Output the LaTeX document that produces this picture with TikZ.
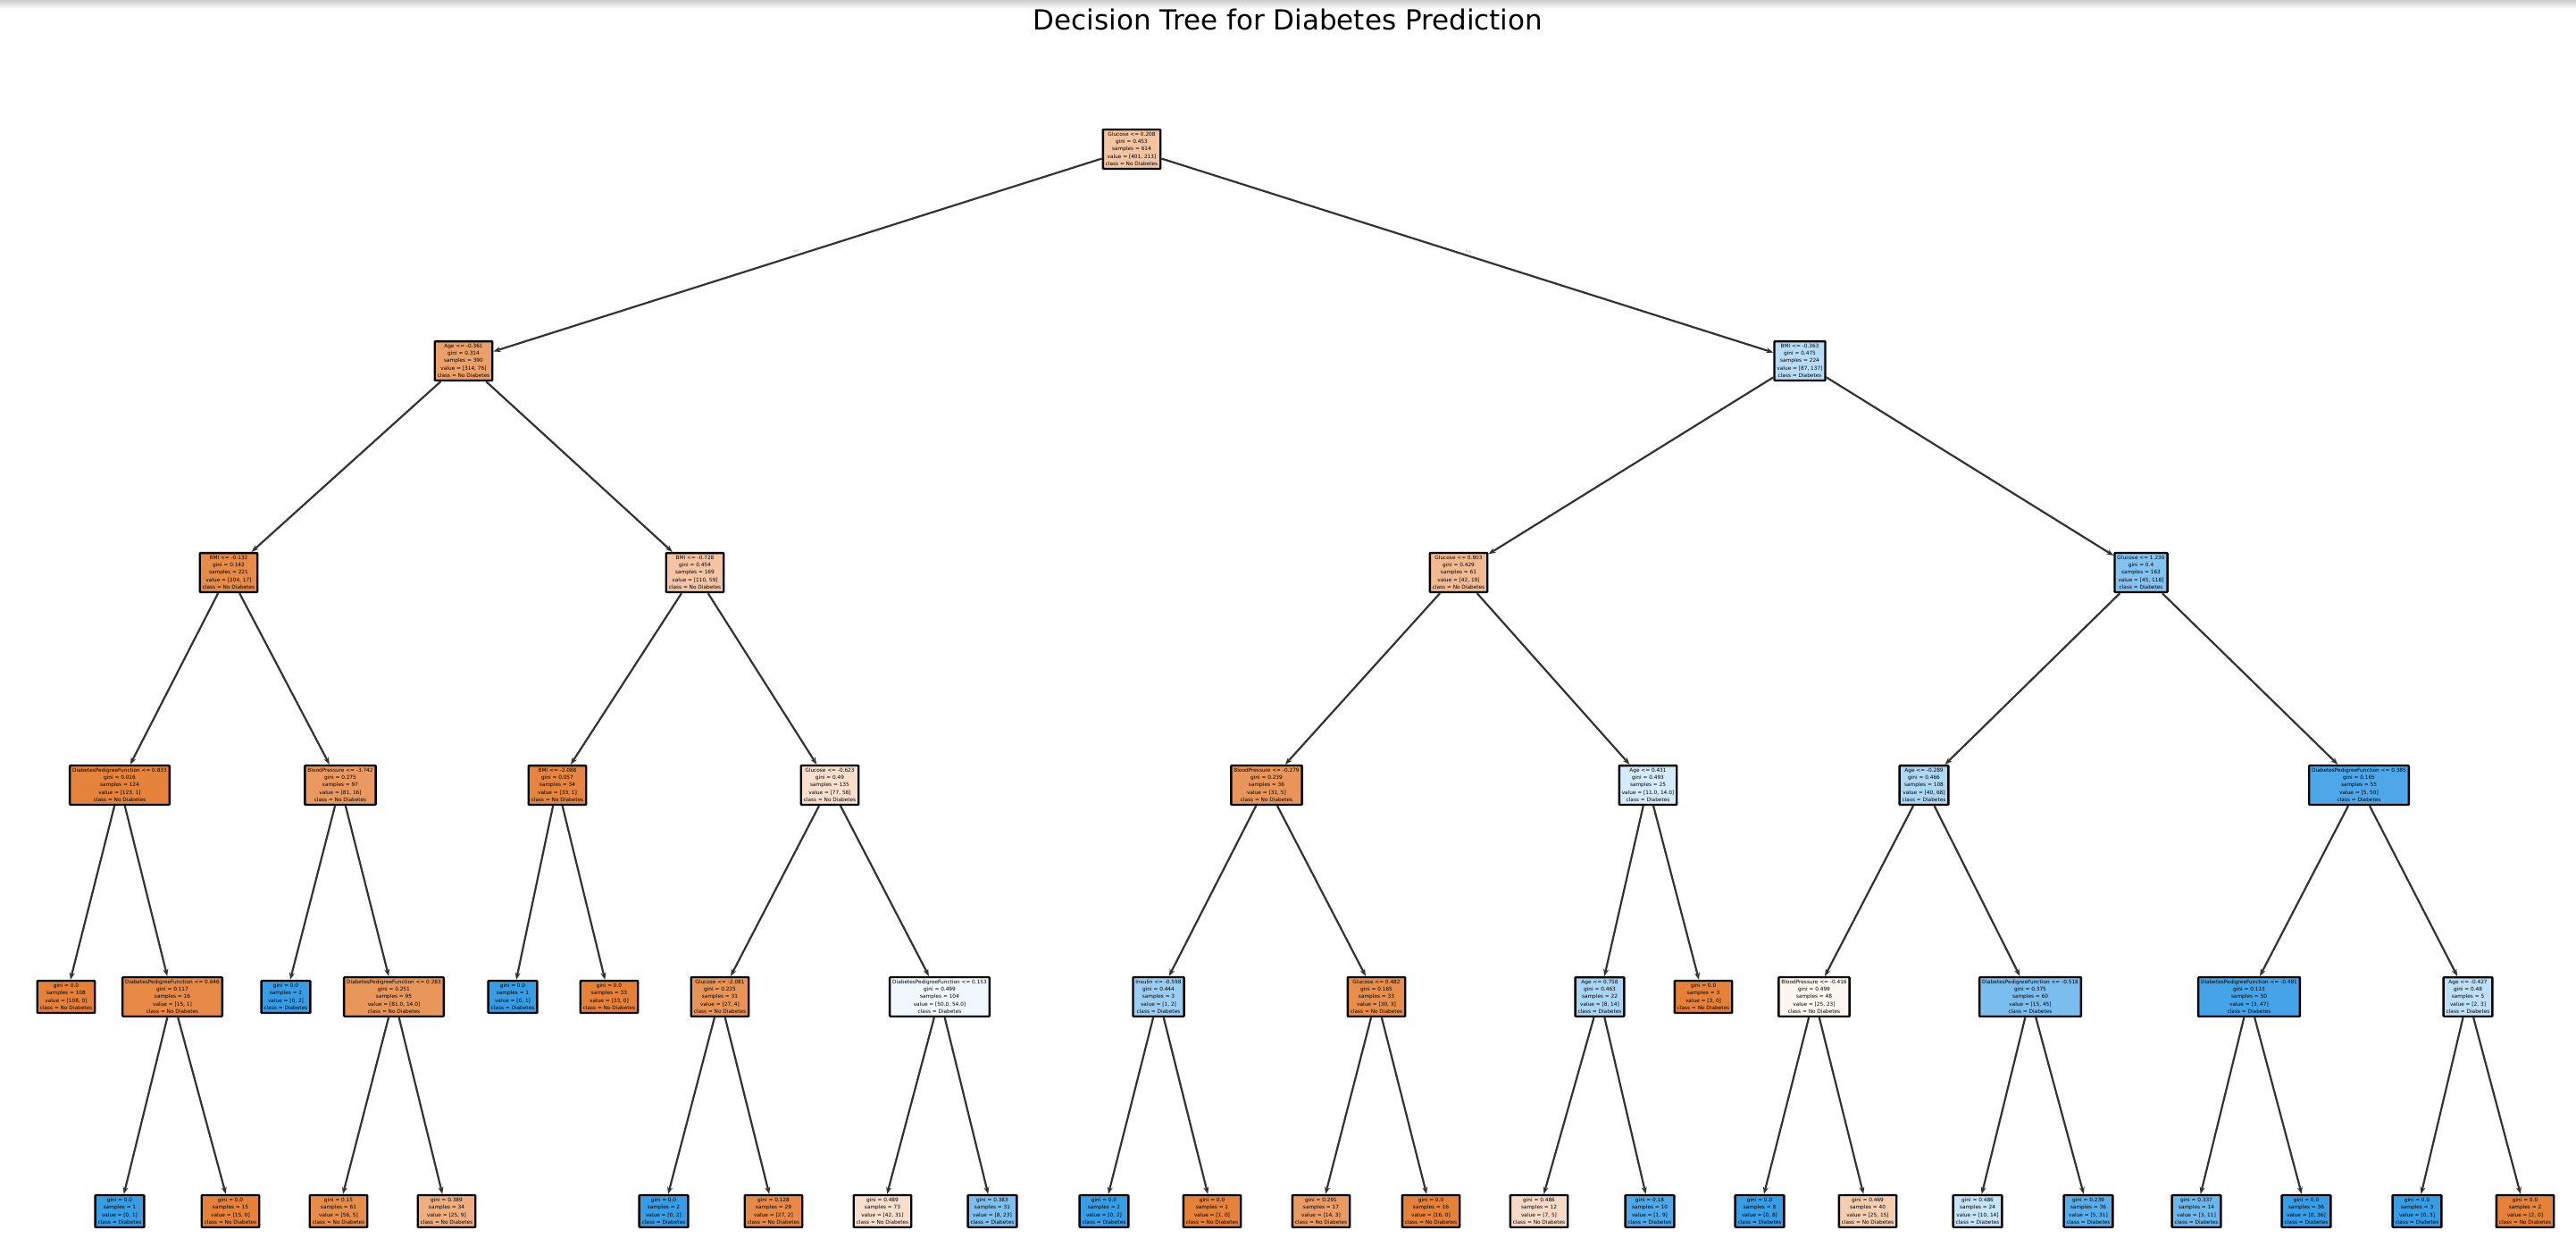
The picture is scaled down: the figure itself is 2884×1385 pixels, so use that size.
\documentclass[tikz,border=0pt]{standalone}
\usepackage{fontspec}
\setmainfont{DejaVu Sans}
\usepackage{tikz}
\usetikzlibrary{arrows.meta}

\definecolor{cno}{RGB}{229,129,57}
\definecolor{cyes}{RGB}{57,157,229}

\begin{document}
\begin{tikzpicture}[x=1pt,y=-1pt,
	box/.style={draw=black, line width=2.4pt, align=center, inner xsep=3pt, inner ysep=3pt,
		font=\fontsize{5.8}{8}\selectfont, rounded corners=0.8pt},
	edge/.style={draw=black!80, line width=2.2pt, -{Stealth[length=8pt,width=6pt]}},
	lab/.style={font=\fontsize{3}{3}\selectfont, text=black!45, sloped, midway, above=-1pt}]

\useasboundingbox (0,0) rectangle (2884,1385);
\shade[top color=black!20, bottom color=white] (0,0) rectangle (2884,10);

% title
\node (title) at (1442,22) {\fontsize{31}{34}\selectfont Decision Tree for Diabetes Prediction};

% depth 0 - 2
\node[box, fill=cno!47!white] (n0) at (1267,167) {Glucose <= 0.208\\gini = 0.453\\samples = 614\\[1.5pt]value = [401, 213]\\class = No Diabetes};
\node[box, fill=cno!76!white] (n1) at (519,404) {Age <= -0.361\\gini = 0.314\\samples = 390\\[1.5pt]value = [314, 76]\\class = No Diabetes};
\node[box, fill=cyes!36!white] (n2) at (2015,404) {BMI <= -0.363\\gini = 0.475\\samples = 224\\[1.5pt]value = [87, 137]\\class = Diabetes};
\node[box, fill=cno!92!white] (n3) at (256,641) {BMI <= -0.132\\gini = 0.142\\samples = 221\\[1.5pt]value = [204, 17]\\class = No Diabetes};
\node[box, fill=cno!46!white] (n4) at (778,641) {BMI <= -0.728\\gini = 0.454\\samples = 169\\[1.5pt]value = [110, 59]\\class = No Diabetes};
\node[box, fill=cno!55!white] (n5) at (1633,641) {Glucose <= 0.803\\gini = 0.429\\samples = 61\\[1.5pt]value = [42, 19]\\class = No Diabetes};
\node[box, fill=cyes!62!white] (n6) at (2397,641) {Glucose <= 1.230\\gini = 0.4\\samples = 163\\[1.5pt]value = [45, 118]\\class = Diabetes};

% depth 3
\node[box, fill=cno!99!white] (n7) at (134,879) {DiabetesPedigreeFunction <= 0.833\\gini = 0.016\\samples = 124\\[1.5pt]value = [123, 1]\\class = No Diabetes};
\node[box, fill=cno!80!white] (n8) at (381,879) {BloodPressure <= -3.742\\gini = 0.275\\samples = 97\\[1.5pt]value = [81, 16]\\class = No Diabetes};
\node[box, fill=cno!97!white] (n9) at (624,879) {BMI <= -2.088\\gini = 0.057\\samples = 34\\[1.5pt]value = [33, 1]\\class = No Diabetes};
\node[box, fill=cno!25!white] (n10) at (929,879) {Glucose <= -0.623\\gini = 0.49\\samples = 135\\[1.5pt]value = [77, 58]\\class = No Diabetes};
\node[box, fill=cno!84!white] (n11) at (1418,879) {BloodPressure <= -0.279\\gini = 0.239\\samples = 36\\[1.5pt]value = [31, 5]\\class = No Diabetes};
\node[box, fill=cyes!21!white] (n12) at (1845,879) {Age <= 0.431\\gini = 0.493\\samples = 25\\[1.5pt]value = [11.0, 14.0]\\class = Diabetes};
\node[box, fill=cyes!41!white] (n13) at (2154,879) {Age <= -0.289\\gini = 0.466\\samples = 108\\[1.5pt]value = [40, 68]\\class = Diabetes};
\node[box, fill=cyes!90!white] (n14) at (2641,879) {DiabetesPedigreeFunction <= 0.385\\gini = 0.165\\samples = 55\\[1.5pt]value = [5, 50]\\class = Diabetes};

% depth 4
\node[box, fill=cno] (n15) at (74,1116) {gini = 0.0\\samples = 108\\[1.5pt]value = [108, 0]\\class = No Diabetes};
\node[box, fill=cno!93!white] (n16) at (193,1116) {DiabetesPedigreeFunction <= 0.646\\gini = 0.117\\samples = 16\\[1.5pt]value = [15, 1]\\class = No Diabetes};
\node[box, fill=cyes] (n17) at (320,1116) {gini = 0.0\\samples = 2\\[1.5pt]value = [0, 2]\\class = Diabetes};
\node[box, fill=cno!83!white] (n18) at (441,1116) {DiabetesPedigreeFunction <= 0.283\\gini = 0.251\\samples = 95\\[1.5pt]value = [81.0, 14.0]\\class = No Diabetes};
\node[box, fill=cyes] (n19) at (574,1116) {gini = 0.0\\samples = 1\\[1.5pt]value = [0, 1]\\class = Diabetes};
\node[box, fill=cno] (n20) at (682,1116) {gini = 0.0\\samples = 33\\[1.5pt]value = [33, 0]\\class = No Diabetes};
\node[box, fill=cno!85!white] (n21) at (806,1116) {Glucose <= -2.081\\gini = 0.225\\samples = 31\\[1.5pt]value = [27, 4]\\class = No Diabetes};
\node[box, fill=cyes!7!white] (n22) at (1052,1116) {DiabetesPedigreeFunction <= 0.153\\gini = 0.499\\samples = 104\\[1.5pt]value = [50.0, 54.0]\\class = Diabetes};
\node[box, fill=cyes!50!white] (n23) at (1297,1116) {Insulin <= -0.598\\gini = 0.444\\samples = 3\\[1.5pt]value = [1, 2]\\class = Diabetes};
\node[box, fill=cno!90!white] (n24) at (1541,1116) {Glucose <= 0.482\\gini = 0.165\\samples = 33\\[1.5pt]value = [30, 3]\\class = No Diabetes};
\node[box, fill=cyes!43!white] (n25) at (1791,1116) {Age <= 0.758\\gini = 0.463\\samples = 22\\[1.5pt]value = [8, 14]\\class = Diabetes};
\node[box, fill=cno] (n26) at (1907,1116) {gini = 0.0\\samples = 3\\[1.5pt]value = [3, 0]\\class = No Diabetes};
\node[box, fill=cno!8!white] (n27) at (2031,1116) {BloodPressure <= -0.416\\gini = 0.499\\samples = 48\\[1.5pt]value = [25, 23]\\class = No Diabetes};
\node[box, fill=cyes!67!white] (n28) at (2273,1116) {DiabetesPedigreeFunction <= -0.518\\gini = 0.375\\samples = 60\\[1.5pt]value = [15, 45]\\class = Diabetes};
\node[box, fill=cyes!94!white] (n29) at (2518,1116) {DiabetesPedigreeFunction <= -0.481\\gini = 0.113\\samples = 50\\[1.5pt]value = [3, 47]\\class = Diabetes};
\node[box, fill=cyes!33!white] (n30) at (2763,1116) {Age <= -0.427\\gini = 0.48\\samples = 5\\[1.5pt]value = [2, 3]\\class = Diabetes};

% depth 5 (leaves)
\node[box, fill=cyes] (n31) at (134,1356) {gini = 0.0\\samples = 1\\[1.5pt]value = [0, 1]\\class = Diabetes};
\node[box, fill=cno] (n32) at (258,1356) {gini = 0.0\\samples = 15\\[1.5pt]value = [15, 0]\\class = No Diabetes};
\node[box, fill=cno!91!white] (n33) at (379,1356) {gini = 0.15\\samples = 61\\[1.5pt]value = [56, 5]\\class = No Diabetes};
\node[box, fill=cno!64!white] (n34) at (500,1356) {gini = 0.389\\samples = 34\\[1.5pt]value = [25, 9]\\class = No Diabetes};
\node[box, fill=cyes] (n35) at (743,1356) {gini = 0.0\\samples = 2\\[1.5pt]value = [0, 2]\\class = Diabetes};
\node[box, fill=cno!93!white] (n36) at (866,1356) {gini = 0.128\\samples = 29\\[1.5pt]value = [27, 2]\\class = No Diabetes};
\node[box, fill=cno!26!white] (n37) at (988,1356) {gini = 0.489\\samples = 73\\[1.5pt]value = [42, 31]\\class = No Diabetes};
\node[box, fill=cyes!65!white] (n38) at (1111,1356) {gini = 0.383\\samples = 31\\[1.5pt]value = [8, 23]\\class = Diabetes};
\node[box, fill=cyes] (n39) at (1236,1356) {gini = 0.0\\samples = 2\\[1.5pt]value = [0, 2]\\class = Diabetes};
\node[box, fill=cno] (n40) at (1357,1356) {gini = 0.0\\samples = 1\\[1.5pt]value = [1, 0]\\class = No Diabetes};
\node[box, fill=cno!79!white] (n41) at (1479,1356) {gini = 0.291\\samples = 17\\[1.5pt]value = [14, 3]\\class = No Diabetes};
\node[box, fill=cno] (n42) at (1602,1356) {gini = 0.0\\samples = 16\\[1.5pt]value = [16, 0]\\class = No Diabetes};
\node[box, fill=cno!29!white] (n43) at (1723,1356) {gini = 0.486\\samples = 12\\[1.5pt]value = [7, 5]\\class = No Diabetes};
\node[box, fill=cyes!89!white] (n44) at (1847,1356) {gini = 0.18\\samples = 10\\[1.5pt]value = [1, 9]\\class = Diabetes};
\node[box, fill=cyes] (n45) at (1970,1356) {gini = 0.0\\samples = 8\\[1.5pt]value = [0, 8]\\class = Diabetes};
\node[box, fill=cno!40!white] (n46) at (2091,1356) {gini = 0.469\\samples = 40\\[1.5pt]value = [25, 15]\\class = No Diabetes};
\node[box, fill=cyes!29!white] (n47) at (2214,1356) {gini = 0.486\\samples = 24\\[1.5pt]value = [10, 14]\\class = Diabetes};
\node[box, fill=cyes!84!white] (n48) at (2338,1356) {gini = 0.239\\samples = 36\\[1.5pt]value = [5, 31]\\class = Diabetes};
\node[box, fill=cyes!73!white] (n49) at (2459,1356) {gini = 0.337\\samples = 14\\[1.5pt]value = [3, 11]\\class = Diabetes};
\node[box, fill=cyes] (n50) at (2582,1356) {gini = 0.0\\samples = 36\\[1.5pt]value = [0, 36]\\class = Diabetes};
\node[box, fill=cyes] (n51) at (2706,1356) {gini = 0.0\\samples = 3\\[1.5pt]value = [0, 3]\\class = Diabetes};
\node[box, fill=cno] (n52) at (2827,1356) {gini = 0.0\\samples = 2\\[1.5pt]value = [2, 0]\\class = No Diabetes};

% edges
\draw[edge] (n0) -- node[lab] {True} (n1);
\draw[edge] (n0) -- node[lab] {False} (n2);
\foreach \a/\b in {1/3,1/4,2/5,2/6,3/7,3/8,4/9,4/10,5/11,5/12,6/13,6/14,
	7/15,7/16,8/17,8/18,9/19,9/20,10/21,10/22,11/23,11/24,12/25,12/26,13/27,13/28,14/29,14/30,
	16/31,16/32,18/33,18/34,21/35,21/36,22/37,22/38,23/39,23/40,24/41,24/42,25/43,25/44,
	27/45,27/46,28/47,28/48,29/49,29/50,30/51,30/52}{
	\draw[edge] (n\a) -- (n\b);
}

\end{tikzpicture}
\end{document}
